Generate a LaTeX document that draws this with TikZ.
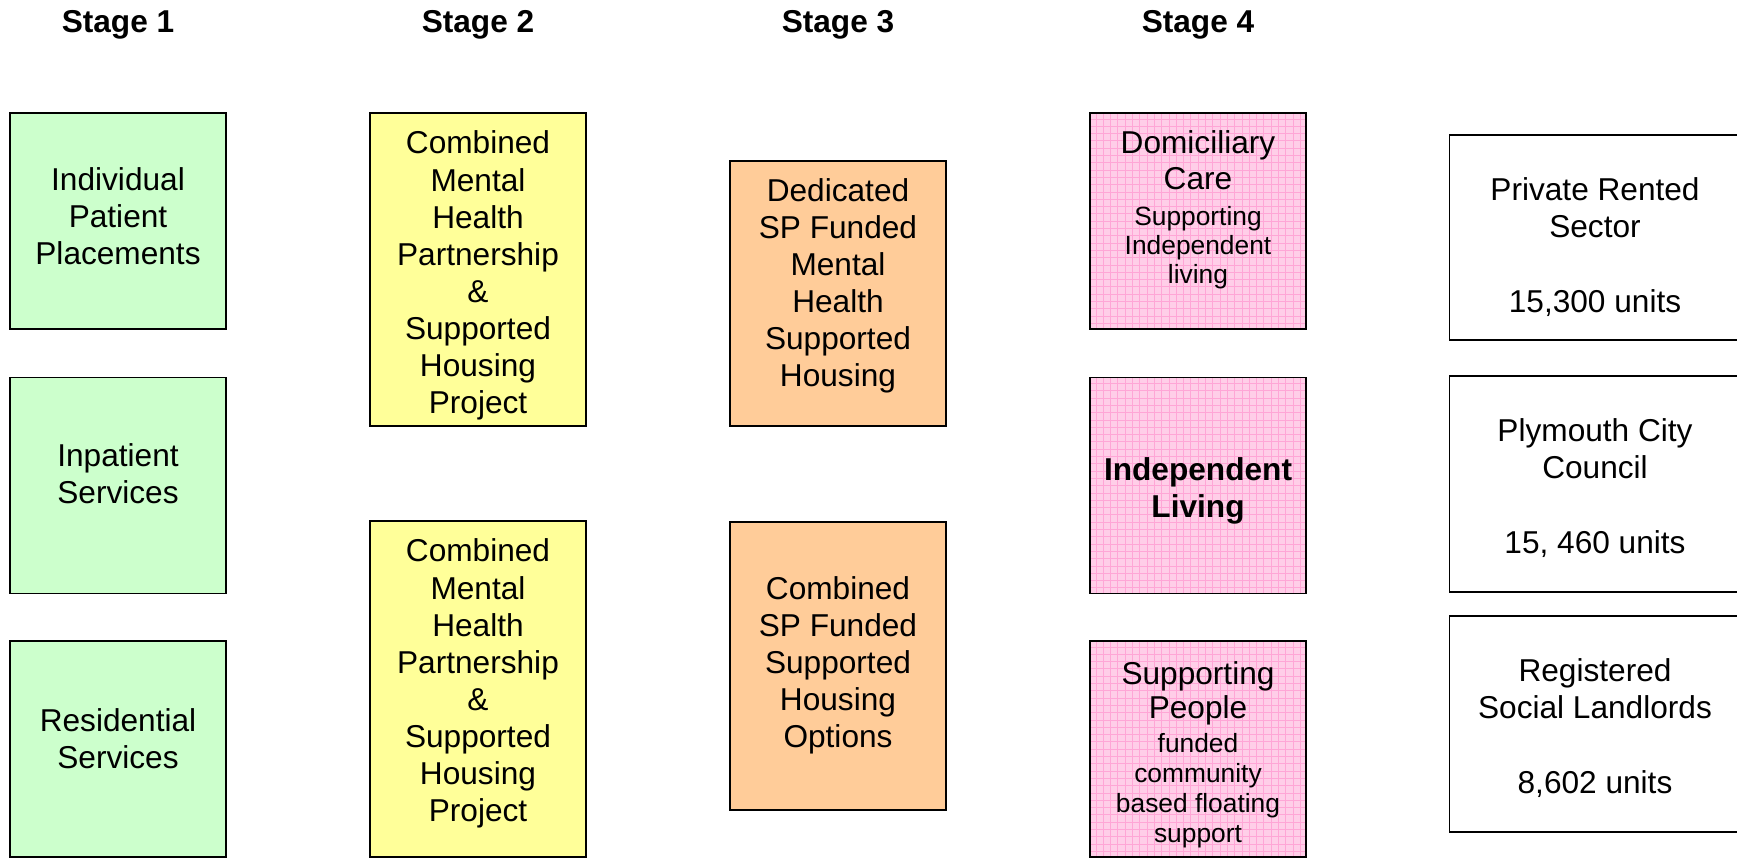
\documentclass[tikz,border=0pt]{standalone}
\usepackage{fontspec}
\setmainfont{Liberation Sans}
\usetikzlibrary{positioning}

\definecolor{stgreen}{RGB}{204,255,204}
\definecolor{styellow}{RGB}{255,255,153}
\definecolor{storange}{RGB}{255,204,153}
\definecolor{stpink}{RGB}{255,206,232}
\definecolor{stgrid}{RGB}{255,166,214}

\newcommand{\smalltext}{\fontsize{15}{17}\selectfont}

\tikzset{
    box/.style = {
        rectangle,
        draw,
        line width=0.8pt,
        minimum width=4.32cm,
        minimum height=4.32cm,
        inner sep=0pt
    },
    greenbox/.style  = {box, fill=stgreen},
    yellowbox/.style = {box, fill=styellow},
    orangebox/.style = {box, fill=storange},
    pinkbox/.style   = {box, fill=stpink,
        path picture={\draw[stgrid, line width=0.3pt, step=0.146cm]
            (path picture bounding box.south west) grid (path picture bounding box.north east);}},
    whitebox/.style  = {box, minimum width=5.9cm},
    txt/.style   = {align=center, font=\fontsize{18}{21.1}\selectfont},
    stage/.style = {font=\bfseries\fontsize{18}{21}\selectfont}
}

\begin{document}
\begin{tikzpicture}[x=0.02cm, y=-0.02cm]

\useasboundingbox (0,0) rectangle (1737,858);

% Headings
\node[stage] (s1) at (118,25) {Stage 1};
\node[stage] (s2) at (478,25) {Stage 2};
\node[stage] (s3) at (838,25) {Stage 3};
\node[stage] (s4) at (1198,25) {Stage 4};

% --- Stage 1 ---
\node[greenbox] (ipp) at (118,221) {};
\node[txt] (ipp-t) at (118,216) {Individual\\Patient\\Placements};

\node[greenbox] (inp) at (118,485.5) {};
\node[txt] (inp-t) at (118,474) {Inpatient\\Services};

\node[greenbox] (res) at (118,749) {};
\node[txt] (res-t) at (118,739) {Residential\\Services};

% --- Stage 2 ---
\node[yellowbox, minimum height=6.26cm] (cmh1) at (478,269.5) {};
\node[txt] (cmh1-t) at (478,275.5) {Combined\\Mental\\Health\\Partnership\\\&\\Supported\\Housing\\Project};

\node[yellowbox, minimum height=6.72cm] (cmh2) at (478,689) {};
\node[txt] (cmh2-t) at (478,683.5) {Combined\\Mental\\Health\\Partnership\\\&\\Supported\\Housing\\Project};

% --- Stage 3 ---
\node[orangebox, minimum height=5.3cm] (ded) at (838,293.5) {};
\node[txt] (ded-t) at (838,286) {Dedicated\\SP Funded\\Mental\\Health\\Supported\\Housing};

\node[orangebox, minimum height=5.76cm] (opt) at (838,666) {};
\node[txt] (opt-t) at (838,665.5) {Combined\\SP Funded\\Supported\\Housing\\Options};

% --- Stage 4 ---
\node[pinkbox] (dom) at (1198,221) {};
\node[txt] (dom-t) at (1198,210) {Domiciliary\\[-0.3pt]Care\\[-1pt]\smalltext Supporting\\[-4.3pt]\smalltext Independent\\[-4.5pt]\smalltext living};

\node[pinkbox] (ind) at (1198,485.5) {};
\node[txt, font=\bfseries\fontsize{18}{21.1}\selectfont] (ind-t) at (1198,491) {Independent\\Living};

\node[pinkbox] (sp) at (1198,749) {};
\node[txt] (sp-t) at (1198,754.5) {Supporting\\[-1.6pt]People\\[-1.6pt]\smalltext funded\\[-4.1pt]\smalltext community\\[-4.1pt]\smalltext based floating\\[-4pt]\smalltext support};

% Housing stock
\node[whitebox, minimum height=4.1cm] (prs) at (1597,237.5) {};
\node[txt] (prs-t) at (1595,247) {Private Rented\\Sector\\[21.1pt]15,300 units};

\node[whitebox] (pcc) at (1597,484) {};
\node[txt] (pcc-t) at (1595,488) {Plymouth City\\Council\\[21.1pt]15, 460 units};

\node[whitebox] (rsl) at (1597,724) {};
\node[txt] (rsl-t) at (1595,728) {Registered\\Social Landlords\\[21.1pt]8,602 units};

\end{tikzpicture}
\end{document}
